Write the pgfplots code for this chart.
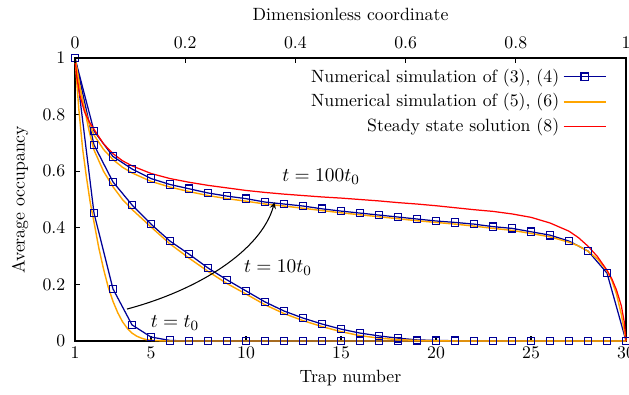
\documentclass[border=0pt]{standalone}
\usepackage{pgfplots}
\pgfplotsset{compat=1.18}
\definecolor{dblue}{RGB}{0,0,150}
\definecolor{orng}{RGB}{255,165,0}
\definecolor{rd}{RGB}{255,0,0}
\begin{document}
\begin{tikzpicture}
\begin{axis}[
 scale only axis, width=309.4bp, height=158.9bp,
 xmin=1, xmax=30, ymin=0, ymax=1,
 xtick={1,5,10,15,20,25,30},
 ytick={0,0.2,0.4,0.6,0.8,1},
 xtick pos=lower, ytick pos=left,
 tick align=inside,
 major tick length=3pt,
 axis line style={line width=0.8pt},
 every tick/.style={black, line width=0.6pt},
 xlabel={Trap number},
 ylabel={Average occupancy},
 xlabel style={at={(axis description cs:0.5,-0.1307)}, anchor=center},
 ylabel style={at={(axis description cs:-0.0998,0.5)}, anchor=center},
 yticklabel style={xshift=-2pt},
 clip=false,
 legend plot pos=right,
 legend cell align=right,
 legend style={draw=none, fill=none, at={(rel axis cs:0.975,0.988)}, anchor=north east, row sep=1pt},
 legend image code/.code={\draw[mark repeat=2,mark phase=2] plot coordinates {(0cm,0cm) (0.415cm,0cm) (0.83cm,0cm)};},
]
% blue: numerical simulation of (3),(4)
\addplot[dblue, line width=0.7pt, mark=square, mark size=2.1bp, mark options={line width=0.7pt}] coordinates {
(1,1.0)(2,0.742)(3,0.652)(4,0.608)(5,0.574)(6,0.553)(7,0.538)(8,0.523)(9,0.512)(10,0.503)
(11,0.491)(12,0.484)(13,0.477)(14,0.467)(15,0.459)(16,0.452)(17,0.445)(18,0.438)(19,0.431)(20,0.424)
(21,0.419)(22,0.413)(23,0.404)(24,0.398)(25,0.386)(26,0.374)(27,0.353)(28,0.318)(29,0.240)(30,0.0)};
\addlegendentry{Numerical simulation of (3), (4)}
\addplot[dblue, line width=0.7pt, mark=square, mark size=2.1bp, mark options={line width=0.7pt}, forget plot] coordinates {
(1,1.0)(2,0.693)(3,0.562)(4,0.481)(5,0.413)(6,0.353)(7,0.307)(8,0.258)(9,0.216)(10,0.177)
(11,0.138)(12,0.106)(13,0.081)(14,0.060)(15,0.042)(16,0.028)(17,0.018)(18,0.010)(19,0.004)(20,0.002)
(21,0.001)(22,0)(23,0)(24,0)(25,0)(26,0)(27,0)(28,0)(29,0)(30,0)};
\addplot[dblue, line width=0.7pt, mark=square, mark size=2.1bp, mark options={line width=0.7pt}, forget plot] coordinates {
(1,1.0)(2,0.452)(3,0.184)(4,0.057)(5,0.014)(6,0.002)(7,0)(8,0)(9,0)(10,0)
(11,0)(12,0)(13,0)(14,0)(15,0)(16,0)(17,0)(18,0)(19,0)(20,0)
(21,0)(22,0)(23,0)(24,0)(25,0)(26,0)(27,0)(28,0)(29,0)(30,0)};
% orange: numerical simulation of (5),(6)
\addplot[orng, line width=0.8pt, legend image post style={line width=1.1pt}] coordinates {
(1,1)(1.25,0.9)(1.5,0.82)(1.75,0.77)(2,0.728)(2.5,0.677)(3,0.641)(3.5,0.614)(4,0.594)(5,0.564)
(6,0.544)(7,0.528)(8,0.514)(9,0.503)(10,0.494)(11,0.484)(12,0.477)(13,0.469)(14,0.461)(15,0.453)
(16,0.446)(17,0.439)(18,0.432)(19,0.425)(20,0.419)(21,0.413)(22,0.406)(23,0.398)(24,0.391)(25,0.380)
(26,0.368)(27,0.349)(27.5,0.336)(28,0.317)(28.5,0.29)(29,0.248)(29.25,0.215)(29.5,0.165)(29.75,0.095)(30,0)};
\addlegendentry{Numerical simulation of (5), (6)}
\addplot[orng, line width=0.8pt, forget plot] coordinates {
(1,1)(1.25,0.90)(1.5,0.82)(1.75,0.74)(2,0.675)(2.5,0.6)(3,0.545)(3.5,0.50)(4,0.465)(5,0.403)
(6,0.343)(7,0.293)(8,0.246)(9,0.203)(10,0.166)(11,0.128)(12,0.097)(13,0.072)(14,0.051)(15,0.033)
(16,0.019)(17,0.010)(18,0.005)(19,0.002)(20,0.0005)(21,0)(30,0)};
\addplot[orng, line width=0.8pt, forget plot] coordinates {
(1,1)(1.2,0.82)(1.4,0.68)(1.6,0.58)(1.8,0.49)(2,0.42)(2.25,0.33)(2.5,0.255)(2.75,0.19)(3,0.14)
(3.25,0.10)(3.5,0.068)(3.75,0.045)(4,0.028)(4.25,0.017)(4.5,0.010)(4.75,0.005)(5,0.0025)(5.5,0.0005)(6,0)(30,0)};
% red: steady state solution
\addplot[rd, line width=0.7pt] coordinates {
(1,1)(1.1,0.93)(1.25,0.87)(1.5,0.81)(1.75,0.775)(2,0.748)(2.5,0.697)(3,0.662)(3.5,0.637)(4,0.619)
(5,0.592)(6,0.574)(7,0.561)(8,0.550)(9,0.541)(10,0.532)(11,0.525)(12,0.519)(13,0.514)(14,0.509)
(15,0.505)(16,0.500)(17,0.495)(18,0.489)(19,0.484)(20,0.478)(21,0.471)(22,0.464)(23,0.458)(24,0.449)
(25,0.437)(26,0.417)(27,0.388)(27.5,0.365)(28,0.335)(28.5,0.298)(29,0.250)(29.25,0.220)(29.5,0.180)(29.75,0.125)(29.9,0.07)(30,0)};
\addlegendentry{Steady state solution (8)}
% annotations
\node[font=\fontsize{11.3}{13}\selectfont] at (axis cs:13.95,0.58) {$t = 100t_0$};
\node[font=\fontsize{11.3}{13}\selectfont] at (axis cs:11.68,0.258) {$t = 10t_0$};
\node[font=\fontsize{11.3}{13}\selectfont] at (axis cs:6.26,0.064) {$t = t_0$};
\draw[-stealth, line width=0.6pt] (axis cs:3.74,0.113) .. controls (axis cs:7.5,0.18) and (axis cs:10.8,0.32) .. (axis cs:11.5,0.49);
\end{axis}
\begin{axis}[
 scale only axis, width=309.4bp, height=158.9bp,
 xmin=0, xmax=1, ymin=0, ymax=1,
 axis x line*=top, axis y line=none,
 xtick={0,0.2,0.4,0.6,0.8,1},
 tick align=inside, major tick length=3pt,
 axis line style={line width=0.8pt},
 every tick/.style={black, line width=0.6pt},
 xlabel={Dimensionless coordinate},
 xlabel style={at={(axis description cs:0.5,1.1555)}, anchor=center},
 xticklabel style={yshift=2pt},
]
\addplot[draw=none] coordinates {(0,0)(1,1)};
\end{axis}
\pgfresetboundingbox
\useasboundingbox (-42.11bp,-30.32bp) rectangle (311.07bp,191.47bp);
\end{tikzpicture}
\end{document}
